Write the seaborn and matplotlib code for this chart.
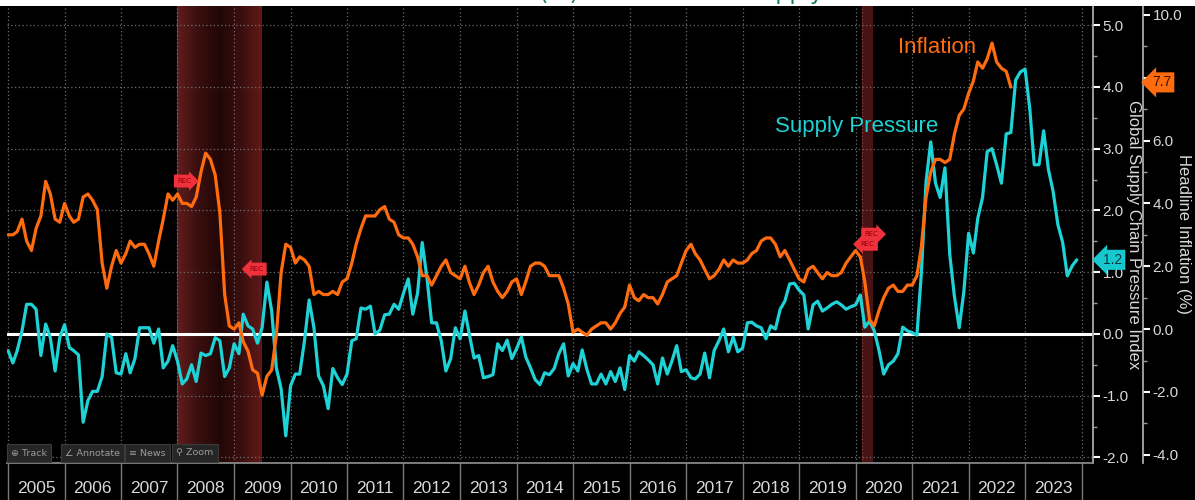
import numpy as np
import pandas as pd
import seaborn as sns
import matplotlib.pyplot as plt
import matplotlib.dates as mdates
import matplotlib.transforms as mtransforms
from matplotlib.colors import LinearSegmentedColormap
from matplotlib.patches import Rectangle
from matplotlib.ticker import MultipleLocator, FormatStrFormatter, NullFormatter

# US headline CPI, % y/y, monthly from Jan 2005
inflation = [
    3.0, 3.0, 3.1, 3.5, 2.8, 2.5, 3.2, 3.6, 4.7, 4.3, 3.5, 3.4,
    4.0, 3.6, 3.4, 3.5, 4.2, 4.3, 4.1, 3.8, 2.1, 1.3, 2.0, 2.5,
    2.1, 2.4, 2.8, 2.6, 2.7, 2.7, 2.4, 2.0, 2.8, 3.5, 4.3, 4.1,
    4.3, 4.0, 4.0, 3.9, 4.2, 5.0, 5.6, 5.4, 4.9, 3.7, 1.1, 0.1,
    0.0, 0.2, -0.4, -0.7, -1.3, -1.4, -2.1, -1.5, -1.3, -0.2, 1.8, 2.7,
    2.6, 2.1, 2.3, 2.2, 2.0, 1.1, 1.2, 1.1, 1.1, 1.2, 1.1, 1.5,
    1.6, 2.1, 2.7, 3.2, 3.6, 3.6, 3.6, 3.8, 3.9, 3.5, 3.4, 3.0,
    2.9, 2.9, 2.7, 2.3, 1.7, 1.7, 1.4, 1.7, 2.0, 2.2, 1.8, 1.7,
    1.6, 2.0, 1.5, 1.1, 1.4, 1.8, 2.0, 1.5, 1.2, 1.0, 1.2, 1.5,
    1.6, 1.1, 1.5, 2.0, 2.1, 2.1, 2.0, 1.7, 1.7, 1.7, 1.3, 0.8,
    -0.1, 0.0, -0.1, -0.2, 0.0, 0.1, 0.2, 0.2, 0.0, 0.2, 0.5, 0.7,
    1.4, 1.0, 0.9, 1.1, 1.0, 1.0, 0.8, 1.1, 1.5, 1.6, 1.7, 2.1,
    2.5, 2.7, 2.4, 2.2, 1.9, 1.6, 1.7, 1.9, 2.2, 2.0, 2.2, 2.1,
    2.1, 2.2, 2.4, 2.5, 2.8, 2.9, 2.9, 2.7, 2.3, 2.5, 2.2, 1.9,
    1.6, 1.5, 1.9, 2.0, 1.8, 1.6, 1.8, 1.7, 1.7, 1.8, 2.1, 2.3,
    2.5, 2.3, 1.5, 0.3, 0.1, 0.6, 1.0, 1.3, 1.4, 1.2, 1.2, 1.4,
    1.4, 1.7, 2.6, 4.2, 5.0, 5.4, 5.4, 5.3, 5.4, 6.2, 6.8, 7.0,
    7.5, 7.9, 8.5, 8.3, 8.6, 9.1, 8.5, 8.3, 8.2, 7.7,
]

# supply chain pressure index as plotted (monthly from Jan 2005)
gscpi = [
    -0.27, -0.47, -0.27, 0.05, 0.48, 0.48, 0.40, -0.35, 0.16, -0.06, -0.60, -0.06,
    0.15, -0.22, -0.27, -0.34, -1.43, -1.08, -0.93, -0.93, -0.69, 0.00, -0.06, -0.63,
    -0.65, -0.32, -0.63, -0.40, 0.10, 0.10, 0.10, -0.15, 0.08, -0.55, -0.44, -0.19,
    -0.44, -0.81, -0.73, -0.50, -0.77, -0.31, -0.35, -0.32, -0.06, -0.11,
    -0.69, -0.55, -0.16, -0.32, 0.32, 0.13, 0.08, -0.15, 0.10, 0.84, 0.37, -0.55,
    -0.89, -1.65, -0.84, -0.65, -0.65, -0.11, 0.55, 0.10, -0.68, -0.84, -1.21, -0.56,
    -0.71, -0.82, -0.65, -0.11, -0.08, 0.42, 0.40, 0.45, 0.00, 0.06, 0.31, 0.32,
    0.48, 0.40, 0.66, 0.89, 0.32, 0.66, 1.48, 0.90, 0.18, 0.18,
    -0.11, -0.60, -0.40, 0.10, -0.08, 0.37, 0.00, -0.39, -0.35, -0.71, -0.69, -0.66,
    -0.16, -0.27, -0.10, -0.40, -0.24, -0.05, -0.37, -0.55, -0.74, -0.82, -0.63, -0.66,
    -0.56, -0.32, -0.16, -0.68, -0.48, -0.60, -0.26, -0.58, -0.81, -0.81, -0.65, -0.81,
    -0.61, -0.77, -0.55, -0.90, -0.35, -0.44, -0.29, -0.35, -0.42,
    -0.50, -0.81, -0.39, -0.65, -0.44, -0.19, -0.61, -0.58, -0.71, -0.73, -0.65, -0.31,
    -0.71, -0.27, -0.11, 0.08, -0.29, -0.05, -0.29, -0.23, 0.18, 0.19, 0.13, 0.10,
    -0.08, 0.13, 0.08, 0.40, 0.53, 0.81, 0.82, 0.71, 0.63, 0.08, 0.47, 0.53,
    0.37, 0.42, 0.48, 0.52, 0.47, 0.40, 0.44, 0.47, 0.63, 0.11, 0.21,
    0.05, -0.27, -0.65, -0.50, -0.44, -0.32, 0.11, 0.05, 0.02, -0.02, 0.97, 2.47,
    3.11, 2.44, 2.21, 2.69, 1.29, 0.61, 0.10, 0.68, 1.63, 1.31, 1.87, 2.21,
    2.95, 3.00, 2.74, 2.44, 3.24, 3.26, 4.11, 4.24, 4.29, 3.63, 2.74, 2.74,
    3.29, 2.66, 2.31, 1.77, 1.48, 0.94, 1.10, 1.20,
]

rec_periods = [("2008-01-01", "2009-07-01"), ("2020-02-15", "2020-04-25")]
toolbar = ["\u2295 Track", "\u2220 Annotate", "\u2261 News", "\u26b2 Zoom"]

ORANGE = "#ff6b0f"
CYAN = "#1ed2d6"
TXT = "#d8d8d8"

df_i = pd.DataFrame({"date": pd.date_range("2005-01-01", periods=len(inflation), freq="MS"),
                     "value": inflation})
df_g = pd.DataFrame({"date": pd.date_range("2005-01-01", periods=len(gscpi), freq="MS"),
                     "value": gscpi})

sns.set_theme(style="dark", rc={"axes.facecolor": "black", "figure.facecolor": "black"})
plt.rcParams["font.family"] = ["Liberation Sans Narrow", "Liberation Sans", "DejaVu Sans"]
SANS = ["Liberation Sans", "DejaVu Sans"]

W, H = 1195, 500
fig = plt.figure(figsize=(W / 100, H / 100), dpi=100, facecolor="black")


def fx(px):
    return px / W


def fy(py):
    return 1 - py / H


ax = fig.add_axes([fx(7), fy(463), fx(1093) - fx(7), fy(6) - fy(463)])
ax.set_facecolor("black")

sns.lineplot(data=df_g, x="date", y="value", ax=ax, color=CYAN, linewidth=2.3, zorder=3)
ax2 = ax.twinx()
sns.lineplot(data=df_i, x="date", y="value", ax=ax2, color=ORANGE, linewidth=2.3, zorder=3)

g_lim = (-2.09, 5.31)
i_lim = (-4.26, 10.28)

# recession shading
rec_cmap = LinearSegmentedColormap.from_list("rec", ["#621c1c", "#3a0f0f", "#220707", "#3a0e0e", "#621919"])
grad = np.linspace(0, 1, 256).reshape(1, -1)
for s, e in rec_periods:
    s, e = pd.Timestamp(s), pd.Timestamp(e)
    if (e - s).days > 180:
        ax.imshow(grad, extent=(mdates.date2num(s), mdates.date2num(e), g_lim[0], g_lim[1]),
                  aspect="auto", cmap=rec_cmap, zorder=0.2, interpolation="bicubic")
    else:
        ax.axvspan(s, e, color="#4a1313", zorder=0.2, lw=0)
    ax.axvline(s, color="#a04848", ls=(0, (1, 2)), lw=0.8, zorder=0.3)

ax.axhline(0, color="white", lw=2.2, zorder=2)

ax.set_xlim(pd.Timestamp("2004-12-25"), pd.Timestamp("2024-03-15"))
ax.set_ylim(*g_lim)
ax2.set_ylim(*i_lim)
for a in (ax, ax2):
    a.set_xlabel("")
    a.set_ylabel("")

# grid
ax.set_axisbelow("line")
ax.yaxis.set_major_locator(MultipleLocator(1))
ax.yaxis.set_minor_locator(MultipleLocator(0.5))
ax.yaxis.set_major_formatter(FormatStrFormatter("%.1f"))
ax.grid(axis="both", which="major", color="#6e6e6e", linestyle=(0, (1, 2)), linewidth=0.9)

# x axis: separators at year starts, labels mid-year
ax.xaxis.set_major_locator(mdates.YearLocator())
ax.xaxis.set_major_formatter(NullFormatter())
ax.xaxis.set_minor_locator(mdates.MonthLocator(bymonth=7))
ax.xaxis.set_minor_formatter(mdates.DateFormatter("%Y"))
ax.tick_params(axis="x", which="major", bottom=True, direction="out", length=27, width=1, color="#7a7a7a")
ax.tick_params(axis="x", which="minor", bottom=True, length=0, labelsize=12.5, labelcolor=TXT, pad=13)

# right axes
ax.yaxis.tick_right()
ax.tick_params(axis="y", which="major", left=False, right=True, direction="out", length=5, width=1.5,
               color="white", labelcolor=TXT, labelsize=11, pad=2)
ax.tick_params(axis="y", which="minor", left=False, right=True, direction="out", length=3, width=1, color="#9a9a9a")

ax2.yaxis.set_major_locator(MultipleLocator(2))
ax2.yaxis.set_minor_locator(MultipleLocator(1))
ax2.yaxis.set_major_formatter(FormatStrFormatter("%.1f"))
ax2.tick_params(axis="y", which="major", direction="out", length=5, width=1.5,
                color="white", labelcolor=TXT, labelsize=11, pad=2)
ax2.tick_params(axis="y", which="minor", direction="out", length=3, width=1, color="#9a9a9a")
ax2.grid(False)

for s in ("left", "top"):
    ax.spines[s].set_visible(False)
ax.spines["bottom"].set_color("#8c8c8c")
ax.spines["right"].set_color("#b0b0b0")
for s in ("left", "top", "bottom"):
    ax2.spines[s].set_visible(False)
ax2.spines["right"].set_position(("outward", 36))
ax2.spines["right"].set_color("#b0b0b0")

# axis titles
fig.text(fx(1134), fy(235), "Global Supply Chain Pressure Index", rotation=-90, ha="center", va="center",
         color=TXT, fontsize=12, family=SANS)
fig.text(fx(1184), fy(234), "Headline Inflation (%)", rotation=-90, ha="center", va="center",
         color=TXT, fontsize=12, family=SANS)

# series labels
fig.text(fx(898), fy(53), "Inflation", color=ORANGE, fontsize=16, va="baseline", family=SANS)
fig.text(fx(775), fy(132), "Supply Pressure", color=CYAN, fontsize=16, va="baseline", family=SANS)

# last value tags
t_i = mtransforms.blended_transform_factory(fig.transFigure, ax2.transData)
ax2.text(fx(1152), inflation[-1] + 0.15, f"{inflation[-1]:.1f}", transform=t_i, clip_on=False,
         ha="left", va="center", fontsize=10, color="#3a1200",
         bbox=dict(boxstyle="larrow,pad=0.22", fc=ORANGE, ec="none"), zorder=10)
t_g = mtransforms.blended_transform_factory(fig.transFigure, ax.transData)
ax.text(fx(1103), gscpi[-1], f"{gscpi[-1]:.1f}", transform=t_g, clip_on=False,
        ha="left", va="center", fontsize=10, color="#053c3e",
        bbox=dict(boxstyle="larrow,pad=0.22", fc="#17c9cf", ec="none"), zorder=10)

# recession flags
rec_flags = [("2008-02-14", 4.71, "rarrow"), ("2009-05-24", 1.91, "larrow"),
             ("2020-04-14", 3.02, "rarrow"), ("2020-03-18", 2.70, "larrow")]
for d, yv, style in rec_flags:
    ax2.text(pd.Timestamp(d), yv, "REC", ha="center", va="center", fontsize=5, color="#8a0008",
             family=["DejaVu Sans"],
             bbox=dict(boxstyle=f"{style},pad=0.5", fc="#f0303a", ec="none"), zorder=6)

# toolbar
tb_x = [11, 65, 129, 176]
for lbl, xp in zip(toolbar, tb_x):
    fig.text(fx(xp), fy(453), lbl, ha="left", va="center", fontsize=6.8, color="#9a9a9a",
             family=["DejaVu Sans"],
             bbox=dict(boxstyle="square,pad=0.45", fc="#262626", ec="#3a3a3a", lw=0.8))

# clipped title band
fig.add_artist(Rectangle((0, fy(6)), 1, 6 / H, transform=fig.transFigure, fc="white", ec="none"))
fig.text(fx(578), 1.0, "US Inflation (%)", ha="right", va="baseline", color="#137a50", fontsize=16,
         family=["DejaVu Sans"])
fig.text(fx(630), 1.0, "vs. Global Supply Chain Pressure", ha="left", va="baseline", color="#137a50",
         fontsize=16, family=["DejaVu Sans"])

fig.savefig("out.png", dpi=100, facecolor="black")
